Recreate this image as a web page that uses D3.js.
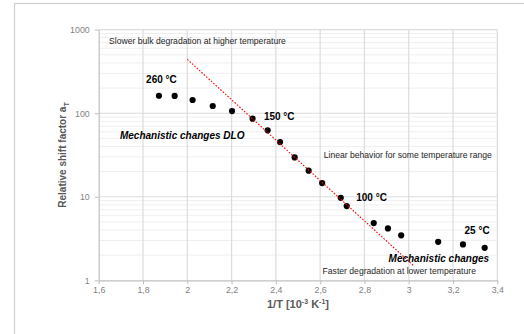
<!DOCTYPE html>
<html>
<head>
<meta charset="utf-8">
<script src="https://cdn.jsdelivr.net/npm/d3@7"></script>
<style>
  html, body { margin: 0; padding: 0; background: #fff; }
  svg { display: block; font-family: "Liberation Sans", Arial, sans-serif; }
</style>
</head>
<body>
<svg id="chart" width="524" height="334"></svg>
<script>
// ---- data ----
const invT = [1.872, 1.943, 2.024, 2.115, 2.202, 2.295, 2.363, 2.419, 2.485, 2.548, 2.609, 2.693, 2.720, 2.842, 2.906, 2.966, 3.133, 3.245, 3.343];
const shiftFactor = [162, 161, 144, 122, 106, 86, 62.4, 45.2, 29.6, 20.5, 14.6, 9.7, 7.74, 4.84, 4.18, 3.45, 2.89, 2.69, 2.45];
const trendX = [2.0, 3.025];
const trendY = [442, 1.47];
const xTicks = [1.6, 1.8, 2.0, 2.2, 2.4, 2.6, 2.8, 3.0, 3.2, 3.4];
const yTicks = [1, 10, 100, 1000];
const noteTexts = [
  "Slower bulk degradation at higher temperature",
  "260 °C",
  "Mechanistic changes DLO",
  "150 °C",
  "Linear behavior for some temperature range",
  "100 °C",
  "25 °C",
  "Mechanistic changes",
  "Faster degradation at lower temperature"
];
const noteX = [1.647, 1.814, 1.696, 2.346, 2.616, 2.763, 3.252, 2.909, 2.611];
const noteY = [674, 232, 49.1, 83.6, 29.3, 8.81, 3.57, 1.65, 1.18];

// ---- drawing ----
const svg = d3.select("#chart");
const x = d3.scaleLinear().domain([1.6, 3.4]).range([98.7, 497.3]);
const y = d3.scaleLog().domain([1, 1000]).range([280.3, 29.7]);

// outer frame
svg.append("rect")
  .attr("x", 14.5).attr("y", 3.5).attr("width", 600).attr("height", 400)
  .attr("fill", "none").attr("stroke", "#d0d0d0").attr("stroke-width", 1.2);

// minor horizontal grid
const minor = [];
for (let d = 1; d < 1000; d *= 10) for (let k = 2; k <= 9; k++) minor.push(d * k);
svg.append("g").selectAll("line").data(minor).join("line")
  .attr("x1", x(1.6)).attr("x2", x(3.4))
  .attr("y1", d => y(d)).attr("y2", d => y(d))
  .attr("stroke", "#efefef").attr("stroke-width", 1);

// major horizontal grid
svg.append("g").selectAll("line").data(yTicks.slice(1)).join("line")
  .attr("x1", x(1.6)).attr("x2", x(3.4))
  .attr("y1", d => y(d)).attr("y2", d => y(d))
  .attr("stroke", "#dcdcdc").attr("stroke-width", 1.2);

// vertical grid
svg.append("g").selectAll("line").data(xTicks.slice(1)).join("line")
  .attr("x1", d => x(d)).attr("x2", d => x(d))
  .attr("y1", y(1)).attr("y2", y(1000))
  .attr("stroke", "#dcdcdc").attr("stroke-width", 1.2);

// axes
const fmtX = d => d3.format(".1~f")(d).replace(".", ",");
const xAxis = svg.append("g").attr("transform", `translate(0,${y(1)})`)
  .call(d3.axisBottom(x).tickValues(xTicks).tickFormat(fmtX).tickSize(4).tickSizeOuter(0));
const yAxis = svg.append("g").attr("transform", `translate(${x(1.6)},0)`)
  .call(d3.axisLeft(y).tickValues(yTicks).tickFormat(d3.format("d")).tickSize(4).tickSizeOuter(0));
[xAxis, yAxis].forEach(a => {
  a.select(".domain").attr("stroke", "#bfbfbf").attr("stroke-width", 1.2);
  a.selectAll(".tick line").attr("stroke", "#bfbfbf");
  a.selectAll(".tick text").attr("fill", "#7f7f7f").attr("font-size", 8.8)
    .attr("font-family", "Liberation Sans, Arial, sans-serif");
});
xAxis.selectAll(".tick text").attr("y", 5).attr("dy", "0.9em");
yAxis.selectAll(".tick text").attr("x", -9);

// axis titles
const xt = svg.append("text")
  .attr("x", (x(1.6) + x(3.4)) / 2).attr("y", 307.5)
  .attr("text-anchor", "middle").attr("fill", "#595959")
  .attr("font-size", 11).attr("font-weight", "bold");
xt.append("tspan").text("1/T [10");
xt.append("tspan").text("-3").attr("font-size", 7).attr("dy", -4);
xt.append("tspan").text(" K").attr("dy", 4);
xt.append("tspan").text("-1").attr("font-size", 7).attr("dy", -4);
xt.append("tspan").text("]").attr("dy", 4);

const yt = svg.append("text")
  .attr("transform", `translate(66,${(y(1) + y(1000)) / 2}) rotate(-90)`)
  .attr("text-anchor", "middle").attr("fill", "#595959")
  .attr("font-size", 10).attr("font-weight", "bold");
yt.append("tspan").text("Relative shift factor a");
yt.append("tspan").text("T").attr("font-size", 7).attr("dy", 2.5);

// points
svg.append("g").selectAll("circle").data(invT).join("circle")
  .attr("cx", d => x(d)).attr("cy", (d, i) => y(shiftFactor[i]))
  .attr("r", 3.1).attr("fill", "#000");

// trend line
svg.append("line")
  .attr("x1", x(trendX[0])).attr("y1", y(trendY[0]))
  .attr("x2", x(trendX[1])).attr("y2", y(trendY[1]))
  .attr("stroke", "#ff0000").attr("stroke-width", 1.1).attr("stroke-dasharray", "1.6,1.6");

// annotations
const styles = ["n", "b", "bi", "b", "n", "b", "b", "bi", "n"];
svg.append("g").selectAll("text").data(noteTexts).join("text")
  .attr("x", (d, i) => x(noteX[i])).attr("y", (d, i) => y(noteY[i]))
  .attr("fill", (d, i) => styles[i] === "n" ? "#262626" : "#000")
  .attr("font-size", (d, i) => styles[i] === "n" ? 8.6 : 10)
  .attr("font-weight", (d, i) => styles[i] === "n" ? "normal" : "bold")
  .attr("font-style", (d, i) => styles[i] === "bi" ? "italic" : "normal")
  .text(d => d);
</script>
</body>
</html>
